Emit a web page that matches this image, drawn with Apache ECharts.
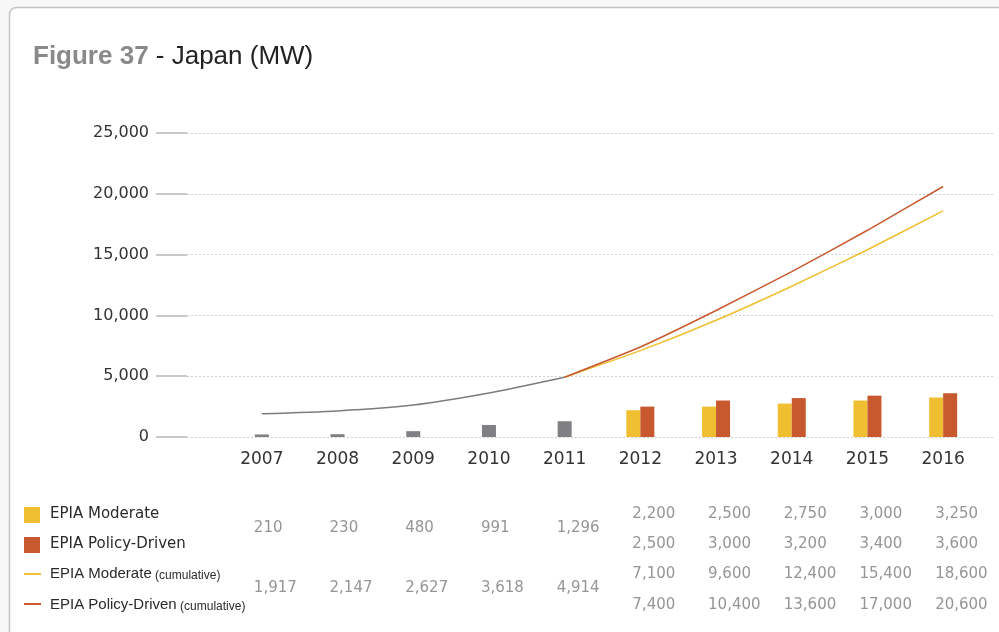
<!DOCTYPE html>
<html>
<head>
<meta charset="utf-8">
<script src="https://cdn.jsdelivr.net/npm/echarts@6/dist/echarts.min.js"></script>
<style>
  html, body { margin: 0; padding: 0; background: #f7f7f7; }
  #chart { width: 999px; height: 632px; }
</style>
</head>
<body>
<div id="chart"></div>
<script>
// Japan PV capacity (MW): historical 2007-2011, EPIA scenarios 2012-2016
const years = ['2007', '2008', '2009', '2010', '2011', '2012', '2013', '2014', '2015', '2016'];
const histYears = ['2007', '2008', '2009', '2010', '2011'];
const projYears = ['2012', '2013', '2014', '2015', '2016'];

const historical = [210, 230, 480, 991, 1296];
const historicalCum = [1917, 2147, 2627, 3618, 4914];

const moderate = [2200, 2500, 2750, 3000, 3250];
const policyDriven = [2500, 3000, 3200, 3400, 3600];
const moderateCum = [7100, 9600, 12400, 15400, 18600];
const policyDrivenCum = [7400, 10400, 13600, 17000, 20600];

const yMax = 25000;
const yStep = 5000;

const C_GRAY_BAR = '#808084';
const C_GRAY_LINE = '#7c7c7c';
const C_YELLOW = '#F0BF31';
const C_ORANGE = '#C8582D';
const FONT_AXIS = 'DejaVu Sans';
const FONT_HEL = 'Liberation Sans';

const gap = n => new Array(n).fill('-');
const fmt = v => v.toLocaleString('en-US');

// bar series aligned to the full category axis
const histBars = historical.concat(gap(projYears.length));
const modBars = gap(histYears.length).concat(moderate);
const polBars = gap(histYears.length).concat(policyDriven);

// cumulative lines; projections start from the last historical total
const histLine = historicalCum.concat(gap(projYears.length));
const lastHist = historicalCum[historicalCum.length - 1];
const modLine = gap(histYears.length - 1).concat([lastHist], moderateCum);
const polLine = gap(histYears.length - 1).concat([lastHist], policyDrivenCum);

const chart = echarts.init(document.getElementById('chart'), null, { renderer: 'canvas' });

const TOP = 133, BOTTOM = 195;

chart.setOption({
  backgroundColor: 'transparent',
  animation: false,
  grid: [
    { left: 187, right: 5, top: TOP, bottom: BOTTOM },
    { left: 224, right: 18, top: TOP, bottom: BOTTOM }
  ],
  xAxis: [
    { type: 'value', gridIndex: 0, show: false, min: 0, max: 1 },
    {
      type: 'category', gridIndex: 1, data: years, boundaryGap: true,
      axisLine: { show: false }, axisTick: { show: false },
      axisLabel: { color: '#333', fontFamily: FONT_AXIS, fontSize: 17, margin: 14 }
    },
    { type: 'category', gridIndex: 1, data: years, show: false }
  ],
  yAxis: [
    {
      type: 'value', gridIndex: 0, min: 0, max: yMax, interval: yStep,
      axisLine: { show: false },
      axisTick: { show: true, inside: false, length: 31, lineStyle: { color: '#c8c8c8', width: 2 } },
      axisLabel: {
        margin: 38, color: '#333', fontFamily: FONT_AXIS, fontSize: 16,
        formatter: v => fmt(v)
      },
      splitLine: { show: true, lineStyle: { color: '#cfcfcf', width: 1, type: [2, 2] } }
    },
    { type: 'value', gridIndex: 1, min: 0, max: yMax, show: false }
  ],
  series: [
    {
      name: 'Historical', type: 'bar', xAxisIndex: 2, yAxisIndex: 1,
      data: histBars, barWidth: 14, itemStyle: { color: C_GRAY_BAR }
    },
    {
      name: 'EPIA Moderate', type: 'bar', xAxisIndex: 1, yAxisIndex: 1,
      data: modBars, barWidth: 14, barGap: '0%', itemStyle: { color: C_YELLOW }
    },
    {
      name: 'EPIA Policy-Driven', type: 'bar', xAxisIndex: 1, yAxisIndex: 1,
      data: polBars, barWidth: 14, barGap: '0%', itemStyle: { color: C_ORANGE }
    },
    {
      name: 'Historical (cumulative)', type: 'line', xAxisIndex: 1, yAxisIndex: 1,
      data: histLine, showSymbol: false, smooth: 0.25,
      lineStyle: { color: C_GRAY_LINE, width: 1.5 }
    },
    {
      name: 'EPIA Moderate (cumulative)', type: 'line', xAxisIndex: 1, yAxisIndex: 1,
      data: modLine, showSymbol: false, smooth: 0.15,
      lineStyle: { color: C_YELLOW, width: 1.5 }
    },
    {
      name: 'EPIA Policy-Driven (cumulative)', type: 'line', xAxisIndex: 1, yAxisIndex: 1,
      data: polLine, showSymbol: false, smooth: 0.15,
      lineStyle: { color: C_ORANGE, width: 1.5 }
    }
  ]
});

// card, title, legend keys and the data table beneath the axis
const g = [];
g.push({
  type: 'rect', z: -10, silent: true,
  shape: { x: 9.5, y: 7.5, width: 1200, height: 800, r: 7 },
  style: { fill: '#ffffff', stroke: '#c2c2c2', lineWidth: 1.5 }
});
g.push({
  type: 'text', z: 10,
  style: {
    x: 33, y: 57, textVerticalAlign: 'middle',
    text: '{a|Figure 37}{b| - Japan (MW)}',
    rich: {
      a: { fontFamily: FONT_HEL, fontSize: 26, fontWeight: 'bold', fill: '#898989' },
      b: { fontFamily: FONT_HEL, fontSize: 26, fill: '#222' }
    }
  }
});

// legend keys
g.push({ type: 'rect', shape: { x: 24, y: 507, width: 16, height: 16 }, style: { fill: C_YELLOW } });
g.push({ type: 'rect', shape: { x: 24, y: 537, width: 16, height: 16 }, style: { fill: C_ORANGE } });
g.push({ type: 'rect', shape: { x: 24, y: 573, width: 17, height: 2 }, style: { fill: C_YELLOW } });
g.push({ type: 'rect', shape: { x: 24, y: 603, width: 17, height: 2 }, style: { fill: C_ORANGE } });

const legendText = (y, text) => ({
  type: 'text',
  style: { x: 50, y, textVerticalAlign: 'middle', text, font: '15px "' + FONT_AXIS + '"', fill: '#2a2a2a' }
});
g.push(legendText(514, 'EPIA Moderate'));
g.push(legendText(544, 'EPIA Policy-Driven'));
const cumText = (y, label) => ({
  type: 'text',
  style: {
    x: 50, y, textVerticalAlign: 'middle',
    text: '{a|' + label + '} {b|(cumulative)}',
    rich: {
      a: { fontFamily: FONT_HEL, fontSize: 15, fill: '#2a2a2a' },
      b: { fontFamily: FONT_HEL, fontSize: 12, fill: '#2a2a2a', padding: [3, 0, 0, 0] }
    }
  }
});
g.push(cumText(574, 'EPIA Moderate'));
g.push(cumText(605, 'EPIA Policy-Driven'));

// table values placed under each year column
const cell = (year, y, value) => {
  const x = chart.convertToPixel({ xAxisIndex: 1 }, year) - 8;
  return {
    type: 'text',
    style: { x, y, textVerticalAlign: 'middle', text: fmt(value), font: '15px "' + FONT_AXIS + '"', fill: '#959595' }
  };
};
histYears.forEach((yr, i) => {
  g.push(cell(yr, 528, historical[i]));
  g.push(cell(yr, 588, historicalCum[i]));
});
projYears.forEach((yr, i) => {
  g.push(cell(yr, 514, moderate[i]));
  g.push(cell(yr, 544, policyDriven[i]));
  g.push(cell(yr, 574, moderateCum[i]));
  g.push(cell(yr, 605, policyDrivenCum[i]));
});

chart.setOption({ graphic: { elements: g } });
</script>
</body>
</html>
